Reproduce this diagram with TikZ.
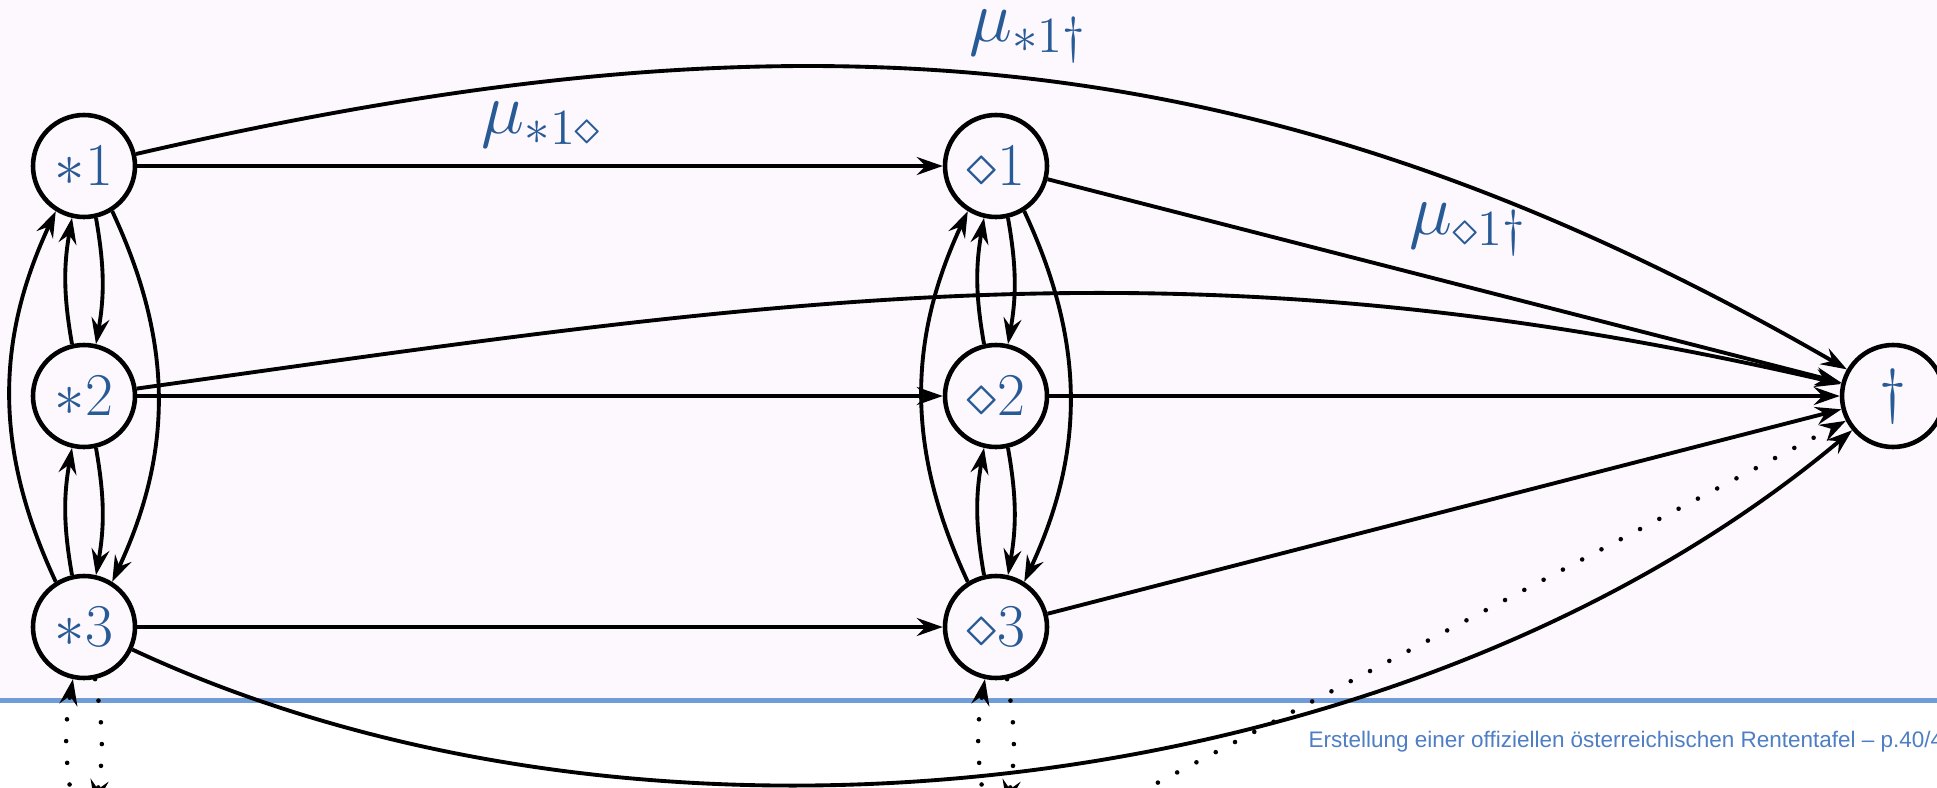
\documentclass[tikz,border=0pt]{standalone}
\usepackage{fontspec}
\newfontfamily\footfont{Liberation Sans}
\usetikzlibrary{arrows.meta}
\definecolor{bgpink}{RGB}{253,248,254}
\definecolor{lineblue}{RGB}{112,156,215}
\definecolor{footblue}{RGB}{78,126,196}
\definecolor{labblue}{RGB}{40,90,150}
\newlength\footw
\tikzset{
  st/.style={circle, draw, line width=1.3pt, minimum size=1.02cm, inner sep=0pt,
    text=labblue, font=\fontsize{16}{18}\selectfont},
  tr/.style={-{Stealth[length=2.6mm,width=1.8mm,inset=0.9mm]}, line width=1.1pt},
  dots/.style={tr, dash pattern=on 0pt off 6.2pt, line cap=round, line width=1.3pt},
  lab/.style={text=labblue, font=\fontsize{19.5}{22}\selectfont, inner sep=0pt},
  foot/.style={text=footblue, inner sep=0pt}
}
\begin{document}
\settowidth\footw{\footfont\fontsize{10}{12}\selectfont Erstellung einer offiziellen österreichischen Rententafel – p.40/}%
\pgfmathsetmacro\footfs{10*177/\footw}%
\begin{tikzpicture}
\useasboundingbox (0,0) rectangle (19.37,7.87);
\fill[white] (0,0) rectangle (19.37,7.87);
\fill[bgpink] (0,0.87) rectangle (19.37,7.87);
\draw[lineblue, line width=0.05cm] (0,0.87) -- (19.37,0.87);
\node[foot, anchor=base west, font=\footfont\fontsize{\footfs}{\footfs}\selectfont] (footer) at (13.08,0.40)
  {Erstellung einer offiziellen österreichischen Rententafel – p.40/4};

\node[st] (s1) at (0.84,6.21) {$\ast1$};
\node[st] (s2) at (0.84,3.91) {$\ast2$};
\node[st] (s3) at (0.84,1.60) {$\ast3$};
\node[st] (d1) at (9.96,6.21) {$\diamond1$};
\node[st] (d2) at (9.96,3.91) {$\diamond2$};
\node[st] (d3) at (9.96,1.60) {$\diamond3$};
\node[st] (x) at (18.93,3.91) {$\dagger$};

\node[lab] (l1) at (5.42,6.62) {$\mu_{\ast1\diamond}$};
\node[lab, anchor=north] (l2) at (10.28,7.78) {$\mu_{\ast1\dagger}$};
\node[lab] (l3) at (14.68,5.58) {$\mu_{\diamond1\dagger}$};

% horizontal
\draw[tr] (s1) -- (d1);
\draw[tr] (s2) -- (d2);
\draw[tr] (s3) -- (d3);
\draw[tr] (d1) -- (x);
\draw[tr] (d2) -- (x);
\draw[tr] (d3) -- (x);
% long curves to dagger
\draw[tr] (s1) to[out=13,in=150] (x);
\draw[tr] (s2) to[out=8,in=167] (x);
\draw[tr] (s3) to[out=-25,in=-140,looseness=0.85] (x);

% column *
\draw[tr] (s1.-77) to[bend left=10] (s2.77);
\draw[tr] (s2.103) to[bend left=10] (s1.-103);
\draw[tr] (s2.-77) to[bend left=10] (s3.77);
\draw[tr] (s3.103) to[bend left=10] (s2.-103);
\draw[tr] (s1.-58) to[out=-65,in=65] (s3.58);
\draw[tr] (s3.122) to[out=115,in=-115] (s1.-122);
% column diamond
\draw[tr] (d1.-77) to[bend left=10] (d2.77);
\draw[tr] (d2.103) to[bend left=10] (d1.-103);
\draw[tr] (d2.-77) to[bend left=10] (d3.77);
\draw[tr] (d3.103) to[bend left=10] (d2.-103);
\draw[tr] (d1.-58) to[out=-65,in=65] (d3.58);
\draw[tr] (d3.122) to[out=115,in=-115] (d1.-122);

% dotted, from below the slide
\coordinate (s4a) at (0.73,-0.19);
\coordinate (s4b) at (0.95,-0.19);
\coordinate (d4a) at (9.85,-0.19);
\coordinate (d4b) at (10.07,-0.19);
\coordinate (d4c) at (11.00,-0.26);
\draw[dots] (s4a) to[bend left=10] (s3.-102);
\draw[dots] (s3.-78) to[bend left=10] (s4b);
\draw[dots] (d4a) to[bend left=10] (d3.-102);
\draw[dots] (d3.-78) to[bend left=10] (d4b);
\draw[dots] (d4c) -- (x);
\end{tikzpicture}
\end{document}
